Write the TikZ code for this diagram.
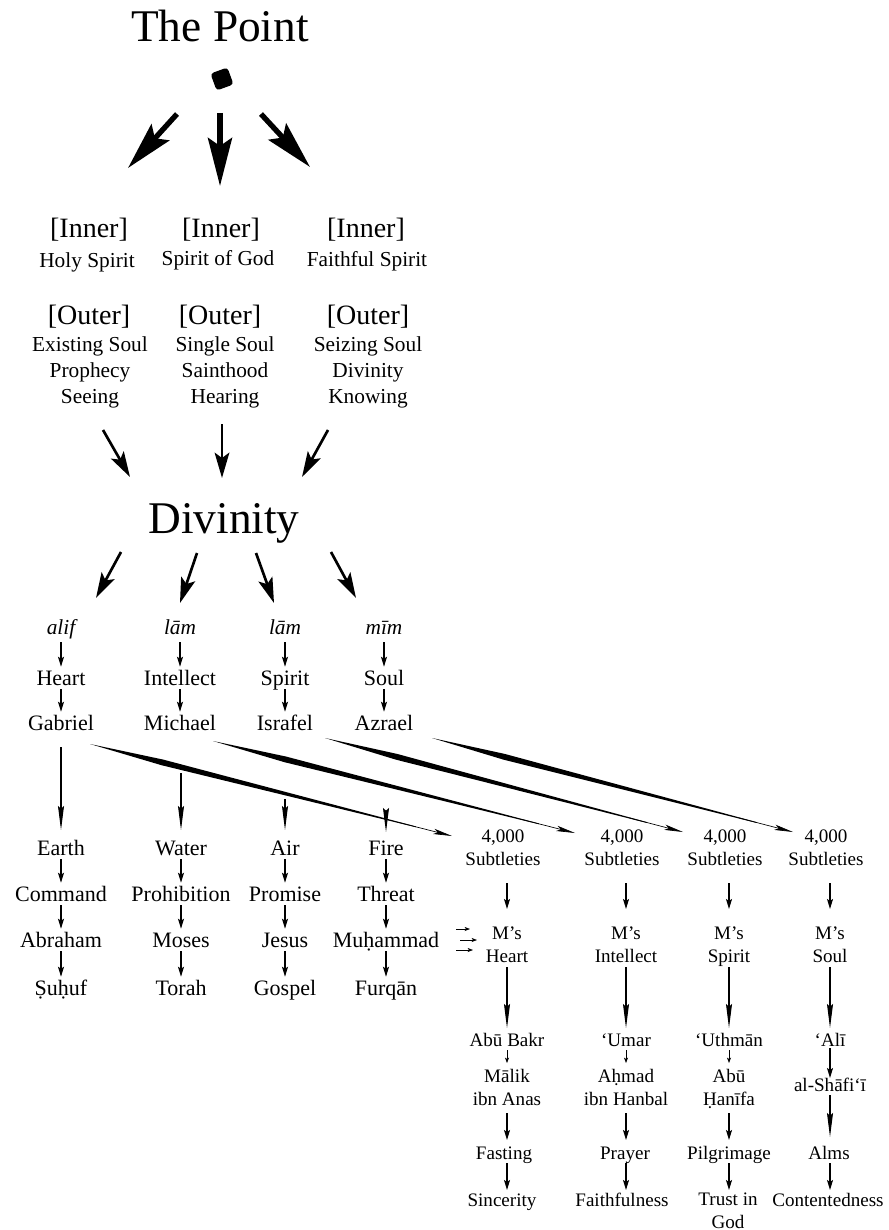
\documentclass[tikz,border=0pt]{standalone}
\usepackage{fontspec}
\setmainfont{Liberation Serif}
\usetikzlibrary{positioning,arrows.meta,calc}

% tapered connector: thin start, thick near the tail, fine tip
\newcommand{\taperarrow}[2]{%
 \fill ($(#1)$) -- ($(#1)!0.2!(#2)!2.2pt!90:(#2)$) -- ($(#1)!0.9!(#2)!0.3pt!90:(#2)$)
   -- ($(#1)!0.9!(#2)!0.3pt!-90:(#2)$) -- ($(#1)!0.2!(#2)!2.2pt!-90:(#2)$) -- cycle;
 \draw[finetip] ($(#1)!0.85!(#2)$) -- (#2);}

\begin{document}
\begin{tikzpicture}[x=0.75pt,y=-0.75pt,
 every node/.style={anchor=base,inner sep=1pt},
 title/.style={font=\fontsize{34}{40}\selectfont},
 hdr/.style={font=\fontsize{21}{25}\selectfont},
 subl/.style={font=\fontsize{16}{19.5}\selectfont,align=center},
 letter/.style={font=\fontsize{16}{19}\selectfont\itshape,text height=12.5pt,text depth=5pt},
 lbl/.style={font=\fontsize{16.5}{20}\selectfont,text height=12.5pt,text depth=2pt},
 rt/.style={font=\fontsize{14.3}{17}\selectfont,align=center},
 bigarr/.style={-{Stealth[length=36pt,width=18pt,inset=6pt]},line width=4pt},
 midarr/.style={-{Stealth[length=19pt,width=11pt,inset=4pt]},line width=2pt},
 smallarr/.style={-{Stealth[length=7.5pt,width=4.5pt,inset=1.5pt]},line width=0.9pt},
 longarr/.style={-{Stealth[length=18pt,width=4.5pt,inset=2pt]},line width=0.8pt},
 tinyarr/.style={-{Stealth[length=4pt,width=3pt,inset=1pt]},line width=0.5pt},
 finetip/.style={-{Stealth[length=14pt,width=4pt,inset=3pt]},line width=0.5pt}]
\useasboundingbox (0,0) rectangle (888,1230);

% the point and the three spirits
\node[title] (point) at (220,42) {The Point};
\node[fill,rounded corners=2.5pt,minimum size=13.5pt,inner sep=0pt,rotate=20,anchor=center] (dot) at (222,79) {};
\node[hdr] (hi1) at (89,238) {[Inner]};
\node[hdr] (hi2) at (221,238) {[Inner]};
\node[hdr] (hi3) at (366,238) {[Inner]};
\node[subl] (in1) at (87,268) {Holy Spirit};
\node[subl] (in2) at (218,266) {Spirit of God};
\node[subl] (in3) at (367,267) {Faithful Spirit};
\node[hdr] (ho1) at (89,325) {[Outer]};
\node[hdr] (ho2) at (220,325) {[Outer]};
\node[hdr] (ho3) at (368,325) {[Outer]};
\node[subl] (out1) at (90,403) {Existing Soul\\Prophecy\\Seeing};
\node[subl] (out2) at (225,403) {Single Soul\\Sainthood\\Hearing};
\node[subl] (out3) at (368,403) {Seizing Soul\\Divinity\\Knowing};
\draw[bigarr] ($(dot)+(-45,35)$) -- ($(hi1.base)+(39,-70)$);
\draw[bigarr] ($(dot)+(-2,34)$) -- ($(hi2.base)+(-1,-52)$);
\draw[bigarr] ($(dot)+(39,35)$) -- ($(hi3.base)+(-56,-71)$);

% divinity
\node[title] (div) at (224,533) {Divinity};
\draw[midarr] ($(out1.base)+(13,27)$) -- ($(div.base)+(-94,-56)$);
\draw[midarr] ($(out2.base)+(-3,21)$) -- ($(div.base)+(-2,-55)$);
\draw[midarr] ($(out3.base)+(-40,27)$) -- ($(div.base)+(78,-56)$);

% letters, faculties, angels
\node[letter] (let1) at (61,634) {alif};
\node[letter] (let2) at (180,634) {lām};
\node[letter] (let3) at (285,634) {lām};
\node[letter] (let4) at (384,634) {mīm};
\node[lbl] (hrt1) at (61,685) {Heart};
\node[lbl] (hrt2) at (180,685) {Intellect};
\node[lbl] (hrt3) at (285,685) {Spirit};
\node[lbl] (hrt4) at (384,685) {Soul};
\node[lbl] (ang1) at (61,730) {Gabriel};
\node[lbl] (ang2) at (180,730) {Michael};
\node[lbl] (ang3) at (285,730) {Israfel};
\node[lbl] (ang4) at (384,730) {Azrael};
\draw[midarr] ($(div.base)+(-103,19)$) -- ($(let1.base)+(35,-36)$);
\draw[midarr] ($(div.base)+(-27,20)$) -- ($(let2.base)+(0,-31)$);
\draw[midarr] ($(div.base)+(32,20)$) -- ($(let3.base)+(-11,-31)$);
\draw[midarr] ($(div.base)+(107,19)$) -- ($(let4.base)+(-28,-36)$);
\draw[smallarr] (let1)--(hrt1); \draw[smallarr] (let2)--(hrt2);
\draw[smallarr] (let3)--(hrt3); \draw[smallarr] (let4)--(hrt4);
\draw[smallarr] (hrt1)--(ang1); \draw[smallarr] (hrt2)--(ang2);
\draw[smallarr] (hrt3)--(ang3); \draw[smallarr] (hrt4)--(ang4);

% elements, commands, prophets, books
\node[lbl] (el1) at (61,855) {Earth};
\node[lbl] (el2) at (181,855) {Water};
\node[lbl] (el3) at (285,855) {Air};
\node[lbl] (el4) at (386,855) {Fire};
\node[lbl] (cmd1) at (61,901) {Command};
\node[lbl] (cmd2) at (181,901) {Prohibition};
\node[lbl] (cmd3) at (285,901) {Promise};
\node[lbl] (cmd4) at (386,901) {Threat};
\node[lbl] (pro1) at (61,947) {Abraham};
\node[lbl] (pro2) at (181,947) {Moses};
\node[lbl] (pro3) at (285,947) {Jesus};
\node[lbl] (pro4) at (386,947) {Muḥammad};
\node[lbl] (bk1) at (61,995) {Ṣuḥuf};
\node[lbl] (bk2) at (181,995) {Torah};
\node[lbl] (bk3) at (285,995) {Gospel};
\node[lbl] (bk4) at (386,995) {Furqān};
\draw[longarr] ($(ang1.base)+(0,17)$) -- ($(el1.base)+(0,-25)$);
\draw[longarr] ($(ang1.base)+(120,43)$) -- ($(el2.base)+(0,-25)$);
\draw[longarr] ($(ang1.base)+(224,69)$) -- ($(el3.base)+(0,-25)$);
\draw[longarr] ($(ang1.base)+(325,82)$) -- ($(el4.base)+(0,-23)$);
\draw[smallarr] (el1)--(cmd1); \draw[smallarr] (el2)--(cmd2);
\draw[smallarr] (el3)--(cmd3); \draw[smallarr] (el4)--(cmd4);
\draw[smallarr] (cmd1)--(pro1); \draw[smallarr] (cmd2)--(pro2);
\draw[smallarr] (cmd3)--(pro3); \draw[smallarr] (cmd4)--(pro4);
\draw[smallarr] (pro1)--(bk1); \draw[smallarr] (pro2)--(bk2);
\draw[smallarr] (pro3)--(bk3); \draw[smallarr] (pro4)--(bk4);

% subtleties and the inner faculties of M
\node[rt] (sub1) at (503,865) {4,000\\Subtleties};
\node[rt] (sub2) at (622,865) {4,000\\Subtleties};
\node[rt] (sub3) at (725,865) {4,000\\Subtleties};
\node[rt] (sub4) at (826,865) {4,000\\Subtleties};
\node[rt] (ms1) at (507,962) {M’s\\Heart};
\node[rt] (ms2) at (626,962) {M’s\\Intellect};
\node[rt] (ms3) at (729,962) {M’s\\Spirit};
\node[rt] (ms4) at (830,962) {M’s\\Soul};
\coordinate (gS) at ($(ang1.base)+(29,14)$); \coordinate (gE) at ($(sub1.base)+(-51,-29)$);
\coordinate (mS) at ($(ang2.base)+(33,11)$); \coordinate (mE) at ($(sub2.base)+(-47,-32)$);
\coordinate (iS) at ($(ang3.base)+(40,8)$); \coordinate (iE) at ($(sub3.base)+(-42,-33)$);
\coordinate (aS) at ($(ang4.base)+(48,8)$); \coordinate (aE) at ($(sub4.base)+(-33,-33)$);
\taperarrow{gS}{gE} \taperarrow{mS}{mE} \taperarrow{iS}{iE} \taperarrow{aS}{aE}
\draw[smallarr] ($(sub1.base)+(4,18)$) -- ($(ms1.base)+(0,-53)$);
\draw[smallarr] ($(sub2.base)+(4,18)$) -- ($(ms2.base)+(0,-53)$);
\draw[smallarr] ($(sub3.base)+(4,18)$) -- ($(ms3.base)+(0,-53)$);
\draw[smallarr] ($(sub4.base)+(4,18)$) -- ($(ms4.base)+(0,-53)$);
\draw[tinyarr] ($(pro4.base)+(70,-18)$) -- ($(ms1.base)+(-37,-33)$);
\draw[tinyarr] ($(pro4.base)+(74,-7)$) -- ($(ms1.base)+(-30,-22)$);
\draw[tinyarr] ($(pro4.base)+(70,3)$) -- ($(ms1.base)+(-34,-12)$);

% caliphs, imams, acts, virtues
\node[rt] (cal1) at (507,1046) {Abū Bakr};
\node[rt] (cal2) at (626,1046) {‘Umar};
\node[rt] (cal3) at (729,1046) {‘Uthmān};
\node[rt] (cal4) at (830,1046) {‘Alī};
\node[rt] (imam1) at (507,1105) {Mālik\\ibn Anas};
\node[rt] (imam2) at (626,1105) {Aḥmad\\ibn Hanbal};
\node[rt] (imam3) at (729,1105) {Abū\\Ḥanīfa};
\node[rt] (imam4) at (830,1091) {al-Shāfi‘ī};
\node[rt] (act1) at (504,1159) {Fasting};
\node[rt] (act2) at (625,1159) {Prayer};
\node[rt] (act3) at (729,1159) {Pilgrimage};
\node[rt] (act4) at (829,1159) {Alms};
\node[rt] (vir1) at (502,1206) {Sincerity};
\node[rt] (vir2) at (622,1206) {Faithfulness};
\node[rt] (vir3) at (728,1228) {Trust in\\God};
\node[rt] (vir4) at (828,1206) {Contentedness};
\draw[longarr] ($(ms1.base)+(0,5)$) -- ($(cal1.base)+(0,-18)$);
\draw[longarr] ($(ms2.base)+(0,5)$) -- ($(cal2.base)+(0,-18)$);
\draw[longarr] ($(ms3.base)+(0,5)$) -- ($(cal3.base)+(0,-18)$);
\draw[longarr] ($(ms4.base)+(0,5)$) -- ($(cal4.base)+(0,-18)$);
\draw[tinyarr] ($(cal1.base)+(0,4)$) -- ($(imam1.base)+(0,-42)$);
\draw[tinyarr] ($(cal2.base)+(0,4)$) -- ($(imam2.base)+(0,-42)$);
\draw[tinyarr] ($(cal3.base)+(0,4)$) -- ($(imam3.base)+(0,-42)$);
\draw[smallarr] ($(cal4.base)+(0,2)$) -- ($(imam4.base)+(0,-13)$);
\draw[smallarr] ($(imam1.base)+(0,8)$) -- ($(act1.base)+(3,-19)$);
\draw[smallarr] ($(imam2.base)+(0,8)$) -- ($(act2.base)+(1,-19)$);
\draw[smallarr] ($(imam3.base)+(0,8)$) -- ($(act3.base)+(0,-19)$);
\draw[longarr] ($(imam4.base)+(0,4)$) -- ($(act4.base)+(1,-22)$);
\draw[smallarr] ($(act1.base)+(3,4)$) -- ($(vir1.base)+(5,-16)$);
\draw[smallarr] ($(act2.base)+(1,4)$) -- ($(vir2.base)+(4,-16)$);
\draw[smallarr] ($(act3.base)+(0,4)$) -- ($(vir3.base)+(1,-38)$);
\draw[smallarr] ($(act4.base)+(1,4)$) -- ($(vir4.base)+(2,-16)$);
\end{tikzpicture}
\end{document}
